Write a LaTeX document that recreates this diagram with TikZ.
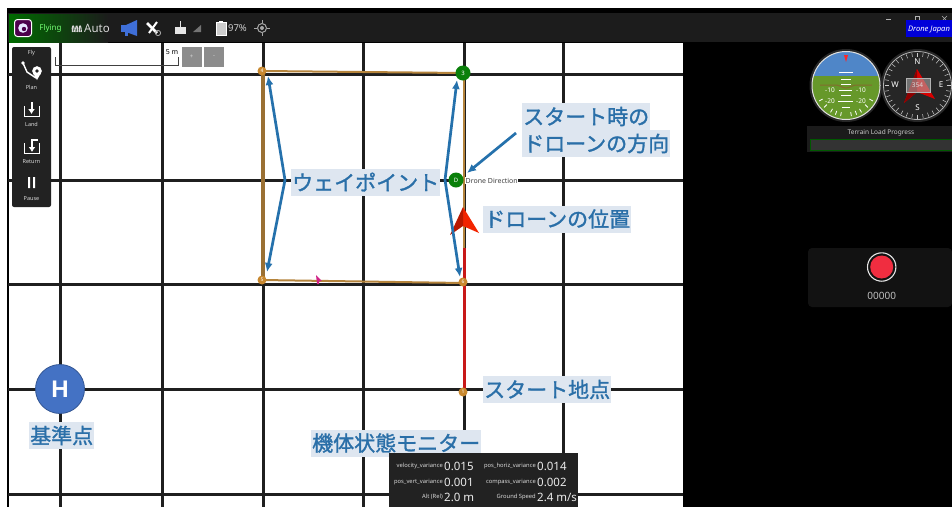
\documentclass[tikz,border=0pt]{standalone}
\usepackage{fontspec}
\setmainfont{Noto Sans}
\newfontfamily\cjk{Noto Sans CJK JP}[FakeBold=1.4]
\newfontfamily\hfont{Liberation Sans}
\usetikzlibrary{arrows.meta,calc}
\definecolor{lblue}{HTML}{DEE6F0}
\definecolor{tblue}{HTML}{2A6FA8}
\definecolor{arrowb}{HTML}{2571AC}
\definecolor{wpor}{HTML}{C8882F}
\definecolor{route}{HTML}{B5843C}
\definecolor{wgreen}{HTML}{0A800A}
\definecolor{panel}{HTML}{222222}
\definecolor{topbar}{HTML}{1C1C1C}
\definecolor{sky}{HTML}{4F86C8}
\definecolor{ground}{HTML}{66982A}
\definecolor{homeb}{HTML}{4472C4}
\definecolor{recred}{HTML}{F02D40}
\definecolor{megaph}{HTML}{3F6FD8}
\definecolor{redroute}{HTML}{C81818}
\tikzset{
 x=1pt,y=-1pt,
 gridline/.style={line width=3pt,draw=black!88},
 label/.style={fill=lblue,text=tblue,font=\cjk\fontsize{21}{25}\selectfont,inner xsep=1pt,inner ysep=0pt,minimum height=27pt,anchor=west},
 callout/.style={draw=arrowb,line width=2.7pt,-{Latex[length=9pt,width=8pt]}},
 wp/.style={circle,fill=wpor,text=white,minimum size=9pt,inner sep=0pt,font=\fontsize{5}{5}\selectfont},
 wpg/.style={circle,fill=wgreen,text=white,minimum size=15pt,inner sep=0pt,font=\fontsize{6}{6}\selectfont},
 tinyw/.style={text=white!85!black,font=\fontsize{5.5}{6}\selectfont,inner sep=0pt},
 smallw/.style={text=white!85!black,font=\fontsize{11.5}{12}\selectfont,inner sep=0pt},
 varn/.style={text=white!85!black,font=\fontsize{5.8}{6}\selectfont,inner sep=0pt,anchor=east},
 varv/.style={text=white!92!black,font=\fontsize{11.5}{12}\selectfont,inner sep=0pt,anchor=west},
 mini/.style={fill=black!45,minimum size=20pt,inner sep=0pt,text=white!85!black,font=\fontsize{6}{6}\selectfont},
 inst/.style={text=white,font=\fontsize{6.5}{7}\selectfont,inner sep=0pt},
 compl/.style={text=white,font=\fontsize{8}{9}\selectfont,inner sep=0pt},
}
\begin{document}
\begin{tikzpicture}
\useasboundingbox (0,0) rectangle (952,507);
\fill[white] (0,0) rectangle (952,507);
% frame
\fill[black] (7,8) rectangle (952,43);
\fill[black] (683,43) rectangle (952,507);
\fill[black] (7,8) rectangle (8.5,507);
\fill[topbar] (8,13) rectangle (952,42);
\shade[left color=green!42!black,right color=topbar] (9,14) rectangle (108,42);
% grid
\foreach \gx in {60,162,263,363,464,563} \draw[gridline] (\gx,43) -- (\gx,507);
\foreach \gy in {74,180,284,389,494} \draw[gridline] (8,\gy) -- (683,\gy);
% top bar
\node[draw=white,line width=1pt,fill=violet!60!black,minimum size=17pt,rounded corners=3pt,inner sep=0pt] (appicon) at (23,28) {};
\fill[white!90!blue] (23,28) circle (4.8pt);
\fill[violet!60!black] (24,29) circle (2.2pt);
\node[text=green!55!white,font=\fontsize{8}{9}\selectfont,inner sep=0] (flying) at (50.5,28.5) {Flying};
\foreach \wx in {72.5,76,79.5}
  \draw[white!85!black,line width=1.1pt] (\wx,32) .. controls (\wx-1,26) and (\wx+1,24) .. (\wx+1.5,28) .. controls (\wx+1.8,31) .. (\wx+1.8,32);
\node[smallw] (autot) at (97,28.5) {Auto};
\fill[megaph] (121,25) rectangle (127,32);
\fill[megaph] (126,25) -- (137,20) -- (137,36) -- (126,32) -- cycle;
\fill[megaph] (125,32) rectangle (128,36);
\draw[white,line width=2.6pt] (147,23) -- (157,33);
\draw[white,line width=2pt] (149,33) -- (157,22);
\draw[white!70!black,line width=.8pt] (158,33) circle (2.6pt);
\fill[white!90!black] (175,27) rectangle (186,34);
\draw[white!90!black] (180,21) -- (180,27);
\fill[black!55] (193,32) -- (201,32) -- (201,25) -- cycle;
\draw[white,line width=.8pt,fill=white!80!black] (216,22) rectangle (226,35);
\fill[white] (219,20.5) rectangle (223,22);
\node[text=white!80!black,font=\fontsize{9.5}{10}\selectfont,inner sep=0] (batt) at (237.5,28.5) {97\%};
\draw[white!65!black,line width=1pt] (262,28) circle (4.5pt);
\fill[white!65!black] (262,28) circle (2pt);
\draw[white!65!black,line width=1pt] (254,28)--(257,28) (267,28)--(270,28) (262,20)--(262,23) (262,33)--(262,36);
% window controls + logo
\draw[white!70!black] (886,19)--(891,19);
\draw[white!70!black,line width=.6pt] (915,16) rectangle (919,20);
\draw[white!70!black,line width=.6pt] (942,16) -- (947,21) (947,16) -- (942,21);
\fill[blue!85!black] (906,20) rectangle (952,37);
\node[text=white,font=\itshape\bfseries\fontsize{7.6}{8}\selectfont,inner sep=0] (dj) at (929,29.5) {Drone Japan};
% left panel
\fill[panel,rounded corners=2pt] (12,47) rectangle (51,207);
\node[tinyw] (fly) at (31.5,53) {Fly};
\node[tinyw] (plan) at (31.5,87.5) {Plan};
\node[tinyw] (land) at (31.5,124.5) {Land};
\node[tinyw] (ret) at (31.5,161.5) {Return};
\node[tinyw] (pause) at (31.5,199) {Pause};
\draw[white,line width=1.4pt] (23,63) -- (27,72) -- (36,78);
\fill[white] (23,63) circle (1.8pt);
\draw[white,fill=white,line width=.5pt] (37,71) circle (4.5pt);
\fill[white] (33,73) -- (41,73) -- (37,80) -- cycle;
\fill[panel] (37,71) circle (1.8pt);
\draw[white,line width=.8pt] (24,106) -- (24,116) -- (39,116) -- (39,106);
\draw[white,line width=2pt,-{Latex[length=5pt,width=7pt]}] (31.5,102) -- (31.5,114);
\draw[white,line width=.8pt] (24,143) -- (24,153) -- (39,153) -- (39,143);
\draw[white,line width=2pt,-{Latex[length=5pt,width=7pt]}] (38,140) -- (32,140) -- (32,152);
\fill[white] (28,177) rectangle (30,188) (33,177) rectangle (35,188);
% scale
\draw[black!75,line width=.8pt] (55,57) -- (55,65.5) -- (178.5,65.5) -- (178.5,57);
\node[font=\bfseries\fontsize{7}{8}\selectfont,inner sep=0,fill=white] (scale) at (172,52.5) {5 m};
\node[mini] (plus) at (191.5,57) {+};
\node[mini] (minus) at (214,57) {-};
% route
\coordinate (r1) at (464,391);
\draw[redroute,line width=3pt] (r1) -- (464,248);
\draw[route,line width=2pt] (263,71) -- (463,73);
\draw[route,line width=2pt] (262,280) -- (463,283);
\draw[route,line width=1.2pt] (464,73) -- (464,248);
\draw[route!85!black,line width=3.2pt] (263,71) -- (263,280);
% waypoints
\node[wp] (w4) at (262,71) {4};
\node[wp] (w5) at (262,280) {5};
\node[wp] (w6) at (463,282) {6};
\node[wp] (w1) at (463,392) {1};
\node[wpg] (w3) at (463,73) {3};
\node[wpg] (wd) at (456,180) {D};
\node[fill=white,text=black!75,font=\fontsize{7}{7}\selectfont,inner sep=.5pt,anchor=west] (dd) at (465,180.5) {Drone Direction};
% drone
\fill[red!70!orange!95!black] (463,207) -- (479,233) -- (463,226) -- cycle;
\fill[red!65!black!80!orange] (463,207) -- (450,235) -- (463,226) -- cycle;
% labels
\node[label] (wplbl) at (291,182) {ウェイポイント};
\node[label,minimum width=127pt] (startdira) at (522,116.5) {スタート時の};
\node[label,minimum width=148pt] (startdirb) at (522,143.5) {ドローンの方向};
\node[label] (pos) at (483,219) {ドローンの位置};
\node[label] (start) at (483,389.5) {スタート地点};
\node[label] (mon) at (311,443) {機体状態モニター};
\node[label] (ref) at (29,435.5) {基準点};
% callouts
\coordinate (wl) at (285,180);
\coordinate (wr) at (445,180);
\draw[callout] (wl) -- (268,76);
\draw[callout] (wl) -- (267,272);
\draw[callout] (wr) -- (457,80);
\draw[callout] (wr) -- (460,277);
\coordinate (sd) at (516,133);
\draw[callout] (sd) -- (467,173);
% cursor
\fill[magenta!85!black] (316,275) -- (322,281) -- (319,281) -- (319,284) -- (317,284) -- cycle;
% home
\node[circle,fill=homeb,draw=homeb!75!black,line width=.8pt,minimum size=49pt,inner sep=0,text=white,font=\hfont\bfseries\fontsize{24}{24}\selectfont] (home) at (60,389) {H};
% status panel
\fill[panel] (389,453) rectangle (578,507);
\foreach \n/\v/\ax/\ay in {velocity\_variance/0.015/443/466,pos\_vert\_variance/0.001/443/482,Alt (Rel)/2.0 m/443/497,pos\_horiz\_variance/0.014/536/466,compass\_variance/0.002/536/482,Ground Speed/2.4 m\slash s/536/497}{
  \node[varn] at (\ax,\ay) {\n};
  \node[varv] at (\ax+1,\ay) {\v};
}
% horizon
\fill[black!85] (846,85.5) circle (36.5pt);
\begin{scope}
\clip (846,85.5) circle (34pt);
\fill[ground] (805,45) rectangle (885,125);
\fill[sky] (805,45) rectangle (885,76);
\end{scope}
\draw[white!88!black,line width=1pt] (846,85.5) circle (34pt);
\foreach \ang in {-150,-135,-120,-110,-100,-80,-70,-60,-45,-30} \draw[white,line width=.8pt] ($(846,85.5)+(\ang:27pt)$) -- ($(846,85.5)+(\ang:31pt)$);
\fill[red!85!white] (844,55) -- (848,55) -- (846,62) -- cycle;
\draw[white,line width=.9pt] (839,72.5)--(853,72.5) (841,79)--(851,79) (841,84)--(851,84);
\draw[ground!30!brown!80!black,line width=1pt] (820,85) -- (837,85) .. controls (840,85) and (842,88) .. (846,88) .. controls (850,88) and (852,85) .. (855,85) -- (872,85);
\draw[white,line width=.8pt] (839,90)--(852,90) (841,95)--(851,95) (838,101)--(853,101) (842,107)--(850,107);
\node[inst] (ha) at (830,90) {-10};
\node[inst] (hb) at (861,90) {-10};
\node[inst] (hc) at (830,101) {-20};
\node[inst] (hd) at (861,101) {-20};
% compass
\fill[black!85] (917.5,85.5) circle (36.5pt);
\draw[white!70!black,line width=.8pt] (917.5,85.5) circle (34pt);
\foreach \ang in {0,10,...,350} \draw[white!80!black,line width=.5pt] ($(917.5,85.5)+(\ang:29pt)$) -- ($(917.5,85.5)+(\ang:33pt)$);
\fill[red!85!black] (917,69) -- (935,99) -- (917,92) -- (904,103) -- cycle;
\fill[red!55!black] (917,69) -- (917,92) -- (904,103) -- cycle;
\fill[black!30,fill opacity=.55] (906,78) rectangle (930,92);
\draw[white!70!black,line width=.5pt] (906,78) rectangle (930,92);
\node[inst,text=white!85!black] (hdg) at (917.5,85.5) {354};
\node[compl] (cn) at (917.5,62) {N};
\node[compl] (cs) at (917.5,108) {S};
\node[compl] (cw) at (895,85) {W};
\node[compl] (ce) at (941,85) {E};
% terrain
\fill[panel!80!black] (807,126) rectangle (952,152);
\draw[green!35!black,line width=.7pt,fill=black!80] (810,139) rectangle (952.5,150);
\node[inst,text=white!80!black] (terr) at (881,133) {Terrain Load Progress};
% record
\fill[black!93!white,rounded corners=4pt] (808,248) rectangle (952,307);
\fill[recred] (881.7,267) circle (11.5pt);
\draw[white!90!black,line width=1.1pt] (881.7,267) circle (14.2pt);
\node[text=white!75!black,font=\fontsize{10}{11}\selectfont,inner sep=0] (rec) at (881.7,295.5) {00000};
\end{tikzpicture}
\end{document}
